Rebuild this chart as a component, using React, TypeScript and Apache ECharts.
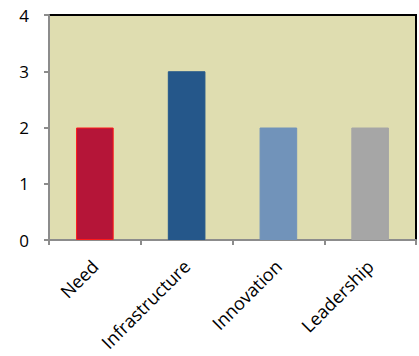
import React, { useEffect, useRef } from "react";
import * as echarts from "echarts";

const categories = ["Need", "Infrastructure", "Innovation", "Leadership"];
const values = [2, 3, 2, 2];
const barColors = ["#B51538", "#25578A", "#7193BA", "#A6A6A6"];
const barBorders = ["#FF1A1A", "#25578A", "#7193BA", "#A6A6A6"];
const yTicks = [0, 1, 2, 3, 4];

export default function App() {
  const ref = useRef<HTMLDivElement>(null);
  useEffect(() => {
    if (!ref.current) return;
    const chart = echarts.init(ref.current, null, { renderer: "svg" });
    const font = "'Open Sans', 'Liberation Sans', sans-serif";
    chart.setOption({
      animation: false,
      grid: {
        left: 49,
        top: 15,
        right: 3,
        bottom: 116,
        show: true,
        backgroundColor: "#DFDDB0",
        borderColor: "#000000",
        borderWidth: 2,
      },
      xAxis: {
        type: "category",
        data: categories,
        axisLine: { lineStyle: { color: "#8C8C8C", width: 2 } },
        axisTick: { show: true, length: 5, lineStyle: { color: "#8C8C8C", width: 2 }, alignWithLabel: false },
        axisLabel: {
          rotate: 45,
          color: "#000",
          fontSize: 18,
          fontFamily: font,
          margin: 23,
          interval: 0,
        },
      },
      yAxis: {
        type: "value",
        min: yTicks[0],
        max: yTicks[yTicks.length - 1],
        interval: 1,
        splitLine: { show: false },
        axisLine: { show: true, lineStyle: { color: "#8C8C8C", width: 2 } },
        axisTick: { show: true, length: 5, lineStyle: { color: "#8C8C8C", width: 2 } },
        axisLabel: { color: "#000", fontSize: 17, fontFamily: font, margin: 20 },
      },
      series: [
        {
          type: "bar",
          barWidth: "41%",
          data: values.map((v, i) => ({
            value: v,
            itemStyle: { color: barColors[i], borderColor: barBorders[i], borderWidth: 1 },
          })),
        },
      ],
    });
    return () => chart.dispose();
  }, []);
  return <div ref={ref} style={{ width: 419, height: 356, position: "absolute", left: 0, top: 0 }} />;
}
